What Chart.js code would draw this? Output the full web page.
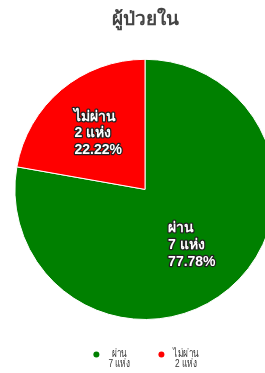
<!DOCTYPE html>
<html>
<head>
<meta charset="utf-8">
<script src="https://cdn.jsdelivr.net/npm/chart.js@4/dist/chart.umd.min.js"></script>
<style>
html,body{margin:0;padding:0;background:#fff;overflow:hidden;}
#wrap{width:290px;height:373px;position:relative;}
</style>
</head>
<body>
<div id="wrap"><canvas id="c"></canvas></div>
<script>
const categories = ['ผ่าน', 'ไม่ผ่าน'];
const counts = [7, 2];
const colors = ['#008000', '#ff0000'];
const unit = 'แห่ง';
const titleText = 'ผู้ป่วยใน';

const FONT = "'Liberation Sans', Arial, sans-serif";

const labelPlugin = {
  id: 'sliceLabels',
  afterDatasetsDraw(chart) {
    const ctx = chart.ctx;
    const meta = chart.getDatasetMeta(0);
    const data = chart.data.datasets[0].data;
    const total = data.reduce((a, b) => a + b, 0);
    ctx.save();
    ctx.font = 'bold 14px ' + FONT;
    ctx.textBaseline = 'middle';
    ctx.textAlign = 'left';
    ctx.lineJoin = 'round';
    meta.data.forEach((arc, i) => {
      const p = arc.getProps(['x', 'y', 'startAngle', 'endAngle', 'outerRadius'], true);
      const mid = (p.startAngle + p.endAngle) / 2;
      const r = p.outerRadius * 0.56;
      const cx = p.x + Math.cos(mid) * r;
      const cy = p.y + Math.sin(mid) * r;
      const lines = [chart.data.labels[i], data[i] + ' ' + unit, (data[i] / total * 100).toFixed(2) + '%'];
      const lh = 16.8;
      const w = Math.max(...lines.map(l => ctx.measureText(l).width));
      const x0 = cx - w / 2;
      const y0 = cy - lh * (lines.length - 1) / 2;
      lines.forEach((l, k) => {
        ctx.strokeStyle = '#222';
        ctx.lineWidth = 2.5;
        ctx.strokeText(l, x0, y0 + k * lh);
        ctx.fillStyle = '#fff';
        ctx.fillText(l, x0, y0 + k * lh);
      });
    });
    ctx.restore();
  }
};

const legendPlugin = {
  id: 'twoLineLegend',
  afterDraw(chart) {
    const ctx = chart.ctx;
    const data = chart.data.datasets[0].data;
    const fontSize = 11.5, sx = 0.72, lh = 10.5, dot = 3, gap = 9, itemGap = 28;
    ctx.save();
    ctx.font = fontSize + 'px ' + FONT;
    ctx.textBaseline = 'middle';
    ctx.textAlign = 'center';
    const items = chart.data.labels.map((l, i) => {
      const lines = [l, data[i] + ' ' + unit];
      const tw = Math.max(...lines.map(s => ctx.measureText(s).width)) * sx;
      return { lines, tw, color: chart.data.datasets[0].backgroundColor[i] };
    });
    const totalW = items.reduce((s, it) => s + dot * 2 + gap + it.tw, 0) + itemGap * (items.length - 1);
    let x = chart.width / 2 + 1 - totalW / 2;
    const cy = 359;
    items.forEach(it => {
      ctx.fillStyle = it.color;
      ctx.beginPath();
      ctx.arc(x + dot, cy - 4.5, dot, 0, Math.PI * 2);
      ctx.fill();
      const tx = x + dot * 2 + gap + it.tw / 2;
      ctx.fillStyle = '#333';
      it.lines.forEach((s, k) => {
        ctx.save();
        ctx.translate(tx, cy - lh / 2 + k * lh);
        ctx.scale(sx, 1);
        ctx.fillText(s, 0, 0);
        ctx.restore();
      });
      x += dot * 2 + gap + it.tw + itemGap;
    });
    ctx.restore();
  }
};

new Chart(document.getElementById('c'), {
  type: 'pie',
  data: {
    labels: categories,
    datasets: [{
      data: counts,
      backgroundColor: colors,
      borderColor: '#ffffff',
      borderWidth: 1
    }]
  },
  options: {
    responsive: true,
    maintainAspectRatio: false,
    animation: false,
    layout: { padding: { bottom: 53 } },
    plugins: {
      title: {
        display: true,
        text: titleText,
        color: '#444',
        font: { size: 19, weight: 'bold', family: FONT },
        padding: { top: 8, bottom: 28 }
      },
      tooltip: { enabled: false },
      legend: { display: false }
    }
  },
  plugins: [labelPlugin, legendPlugin]
});
</script>
</body>
</html>
